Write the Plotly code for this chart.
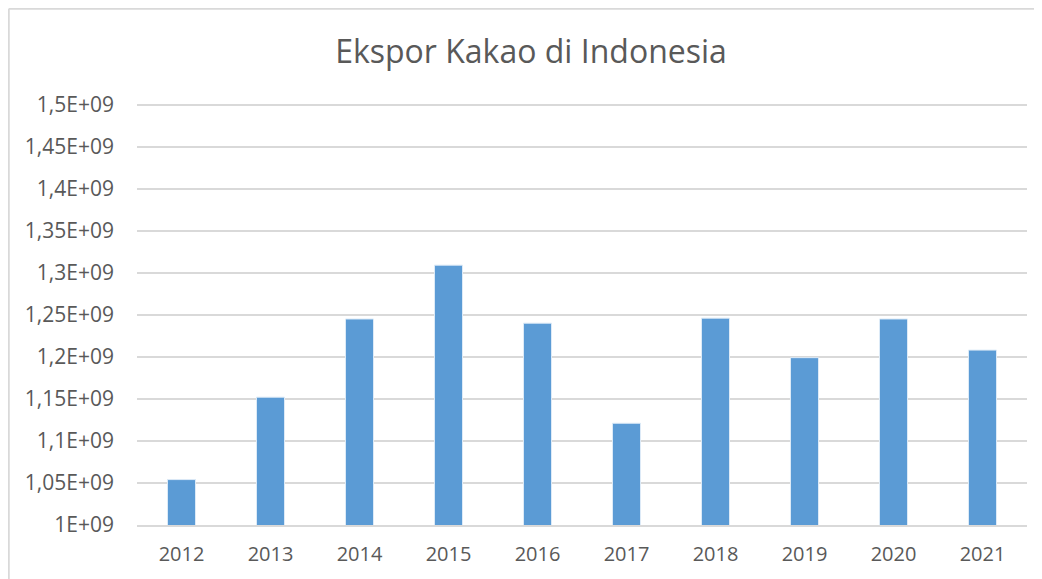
import plotly.graph_objects as go

years = ["2012", "2013", "2014", "2015", "2016", "2017", "2018", "2019", "2020", "2021"]
ekspor = [1.054e9, 1.152e9, 1.245e9, 1.309e9, 1.240e9, 1.121e9, 1.246e9, 1.199e9, 1.245e9, 1.208e9]

tick_vals = [1.0e9, 1.05e9, 1.1e9, 1.15e9, 1.2e9, 1.25e9, 1.3e9, 1.35e9, 1.4e9, 1.45e9, 1.5e9]
tick_text = ["1E+09", "1,05E+09", "1,1E+09", "1,15E+09", "1,2E+09", "1,25E+09",
             "1,3E+09", "1,35E+09", "1,4E+09", "1,45E+09", "1,5E+09"]

grey = "#595959"
grid = "#D9D9D9"

# the page body has an 8px margin, so the figure is a little smaller
W, H = 1034, 571
L, R, T, B = 129, 15, 94, 54
pw, ph = W - L - R, H - T - B

fig = go.Figure()
fig.add_trace(
    go.Bar(
        x=years,
        y=ekspor,
        marker=dict(color="#5B9BD5", line=dict(color="#DEEBF7", width=1)),
        base=0,
    )
)

fig.update_layout(
    width=W,
    height=H,
    margin=dict(l=L, r=R, t=T, b=B),
    paper_bgcolor="white",
    plot_bgcolor="white",
    showlegend=False,
    bargap=0.685,
    font=dict(family="Open Sans, Lato, sans-serif", color=grey, size=20),
    title=dict(
        text="Ekspor Kakao di Indonesia",
        x=(531 - 8) / W, xref="container", xanchor="center",
        y=1 - 44 / H, yref="container", yanchor="middle",
        font=dict(size=32, color=grey),
    ),
)

fig.update_yaxes(
    range=[1.0e9, 1.503e9],
    tickvals=tick_vals,
    ticktext=tick_text,
    showgrid=True,
    gridcolor=grid,
    gridwidth=1.5,
    zeroline=False,
    showline=False,
    ticks="",
    ticklabelstandoff=22,
    tickfont=dict(size=21, color=grey),
)
fig.update_xaxes(
    showline=True,
    linecolor=grid,
    linewidth=1.5,
    ticks="",
    ticklabelstandoff=10,
    tickfont=dict(size=20, color=grey),
)

# chart border on the left and top edges
bx = (0.75 - L) / pw
by = (H - B - 0.75) / ph
fig.add_shape(type="line", xref="paper", yref="paper",
              x0=bx, x1=bx, y0=-B / ph - 0.1, y1=by,
              line=dict(color=grid, width=2))
fig.add_shape(type="line", xref="paper", yref="paper",
              x0=bx, x1=1 + R / pw + 0.1, y0=by, y1=by,
              line=dict(color=grid, width=2))

fig.write_html("out.html")
